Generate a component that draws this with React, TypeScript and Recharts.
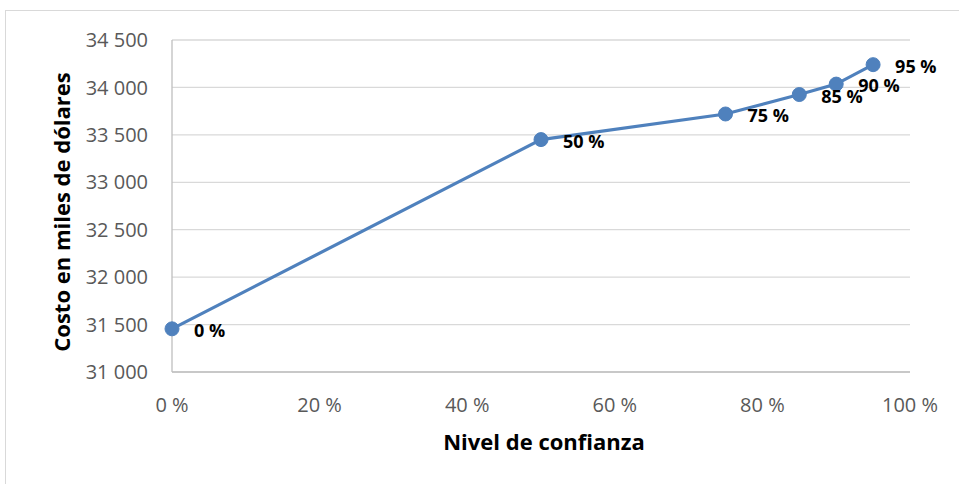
import { LineChart, Line, XAxis, YAxis, CartesianGrid, LabelList, Label } from "recharts";

const nivel = [0, 50, 75, 85, 90, 95];
const costo = [31455, 33450, 33720, 33925, 34035, 34240];
const xTicks = [0, 20, 40, 60, 80, 100];
const yTicks = [31000, 31500, 32000, 32500, 33000, 33500, 34000, 34500];

const data = nivel.map((n, i) => ({ nivel: n, costo: costo[i] }));

const FONT = "'Open Sans', sans-serif";
const BLUE = "#4f81bd";

const fmtMiles = (v: number) =>
  `${Math.floor(v / 1000)} ${String(v % 1000).padStart(3, "0")}`;

function YTitle(props: any) {
  const vb = props.viewBox || { x: 0, y: 0, width: 0, height: 0 };
  const x = vb.x + 61;
  const y = vb.y + vb.height / 2 + 6;
  return (
    <text
      x={x}
      y={y}
      transform={`rotate(-90 ${x} ${y})`}
      textAnchor="middle"
      dominantBaseline="central"
      fontFamily={FONT}
      fontWeight="bold"
      fontSize={22}
      fill="#000"
    >
      Costo en miles de dólares
    </text>
  );
}

function XTitle(props: any) {
  const vb = props.viewBox || { x: 0, y: 0, width: 0, height: 0 };
  return (
    <text
      x={vb.x + vb.width / 2 + 3}
      y={vb.y + 69}
      textAnchor="middle"
      dominantBaseline="central"
      fontFamily={FONT}
      fontWeight="bold"
      fontSize={22}
      fill="#000"
    >
      Nivel de confianza
    </text>
  );
}

export default function App() {
  return (
    <div
      style={{
        position: "absolute",
        left: 0,
        top: 0,
        width: 959,
        height: 484,
        background: "#fff",
        overflow: "hidden",
      }}
    >
      <div
        style={{
          position: "absolute",
          left: 5,
          top: 10,
          width: 1000,
          height: 600,
          border: "1px solid #d9d9d9",
        }}
      />
      <div style={{ position: "absolute", left: 0, top: 0 }}>
        <LineChart
          width={959}
          height={484}
          data={data}
          margin={{ top: 40, right: 49, bottom: 32, left: 0 }}
        >
          <CartesianGrid vertical={false} stroke="#d9d9d9" strokeWidth={1.3} />
          <XAxis
            dataKey="nivel"
            type="number"
            domain={[0, 100]}
            ticks={xTicks}
            tickFormatter={(v: number) => `${v} %`}
            height={80}
            axisLine={{ stroke: "#bfbfbf", strokeWidth: 1.3 }}
            tickLine={false}
            tickSize={6}
            tickMargin={20}
            tick={{ fill: "#595959", fontSize: 20, fontFamily: FONT }}
          >
            <Label content={<XTitle />} />
          </XAxis>
          <YAxis
            dataKey="costo"
            type="number"
            domain={[31000, 34500]}
            ticks={yTicks}
            tickFormatter={fmtMiles}
            width={172}
            axisLine={{ stroke: "#bfbfbf", strokeWidth: 1.3 }}
            tickLine={false}
            tickSize={6}
            tickMargin={18}
            tick={{ fill: "#595959", fontSize: 20, fontFamily: FONT }}
          >
            <Label content={<YTitle />} />
          </YAxis>
          <Line
            dataKey="costo"
            stroke={BLUE}
            strokeWidth={3.2}
            dot={{ r: 7, fill: BLUE, stroke: BLUE, strokeWidth: 1 }}
            isAnimationActive={false}
          >
            <LabelList
              dataKey="nivel"
              position="right"
              offset={22}
              formatter={(v: any) => `${v} %`}
              fill="#000"
              fontFamily={FONT}
              fontWeight="bold"
              fontSize={18}
              dy={2}
            />
          </Line>
        </LineChart>
      </div>
    </div>
  );
}
